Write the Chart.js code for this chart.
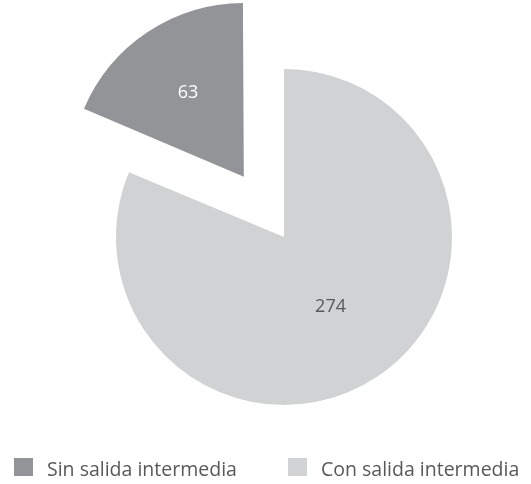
<!DOCTYPE html>
<html>
<head>
<meta charset="utf-8">
<script src="https://cdn.jsdelivr.net/npm/chart.js@4/dist/chart.umd.min.js"></script>
<style>
  html, body { margin: 0; padding: 0; background: #ffffff; overflow: hidden; }
  #wrap { position: relative; width: 531px; height: 484px; }
</style>
</head>
<body>
<div id="wrap"><canvas id="c"></canvas></div>
<script>
// ---- data ----
const categories = ['Sin salida intermedia', 'Con salida intermedia'];
const values = [63, 274];
const sliceColors = ['#929497', '#d1d2d4'];
const labelColors = ['#ffffff', '#58595b'];

const total = values.reduce((a, b) => a + b, 0);

const FONT = '"Open Sans", "Noto Sans", sans-serif';

// draws the value inside each slice
const valueLabels = {
  id: 'valueLabels',
  afterDatasetsDraw(chart) {
    const ctx = chart.ctx;
    const meta = chart.getDatasetMeta(0);
    const dist = [95, 84];
    ctx.save();
    ctx.font = '18px ' + FONT;
    ctx.textAlign = 'center';
    ctx.textBaseline = 'middle';
    meta.data.forEach((arc, i) => {
      const mid = (arc.startAngle + arc.endAngle) / 2;
      const off = (arc.options.offset || 0) / 4;
      const circ = arc.endAngle - arc.startAngle;
      const shift = off * (1 + (1 - Math.sin(Math.min(Math.PI, circ))));
      const d = shift + dist[i];
      ctx.fillStyle = labelColors[i];
      ctx.fillText(String(values[i]), arc.x + Math.cos(mid) * d, arc.y + Math.sin(mid) * d);
    });
    ctx.restore();
  }
};

// legend row at the bottom
const bottomLegend = {
  id: 'bottomLegend',
  afterDraw(chart) {
    const ctx = chart.ctx;
    const xs = [14, 288];
    ctx.save();
    ctx.font = '19.5px ' + FONT;
    ctx.textAlign = 'left';
    ctx.textBaseline = 'alphabetic';
    categories.forEach((lab, i) => {
      ctx.fillStyle = sliceColors[i];
      ctx.fillRect(xs[i], 458, 19, 18);
      ctx.fillStyle = '#58595b';
      ctx.fillText(lab, xs[i] + 33, 476);
    });
    ctx.restore();
  }
};

new Chart(document.getElementById('c'), {
  type: 'pie',
  data: {
    labels: categories,
    datasets: [{
      data: values,
      backgroundColor: sliceColors,
      borderWidth: 0,
      offset: [290, 0]
    }]
  },
  options: {
    responsive: true,
    maintainAspectRatio: false,
    animation: false,
    rotation: -values[0] / total * 360,
    radius: 168,
    layout: { padding: { left: 37, right: 0, top: 0, bottom: 10 } },
    plugins: {
      legend: { display: false },
      tooltip: { enabled: false }
    }
  },
  plugins: [valueLabels, bottomLegend]
});
</script>
</body>
</html>
